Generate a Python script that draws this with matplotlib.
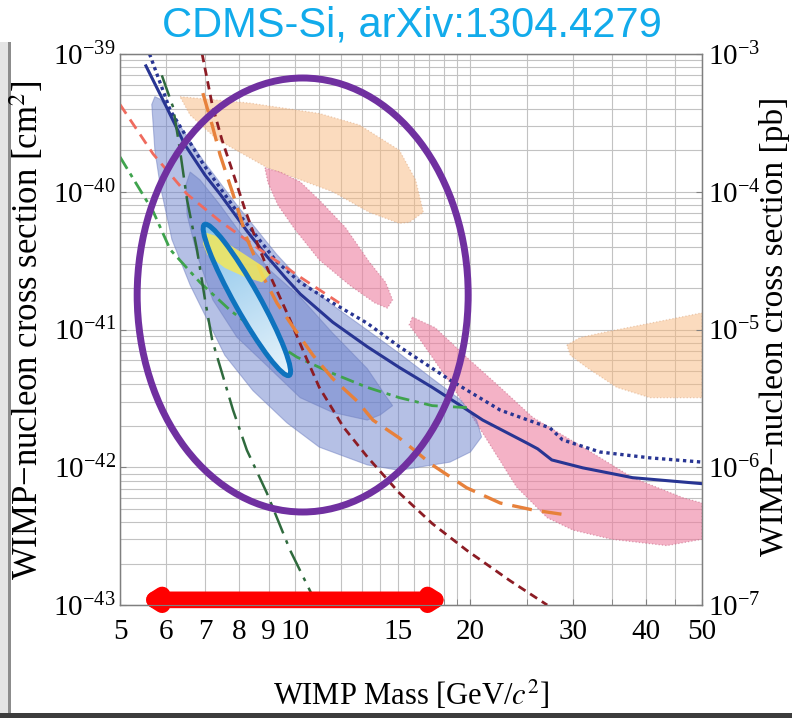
import numpy as np
import matplotlib
matplotlib.use('Agg')
import matplotlib.pyplot as plt
from matplotlib.patches import Ellipse, Rectangle
from matplotlib.transforms import Affine2D, ScaledTranslation
from matplotlib.colors import LinearSegmentedColormap
from matplotlib.image import AxesImage

plt.rcParams['font.family'] = 'Liberation Serif'
plt.rcParams['mathtext.fontset'] = 'stix'

# WIMP mass [GeV/c^2] and cross section [cm^2]
solid_m = [5.54, 5.98, 6.46, 7.00, 7.43, 8.26, 8.94, 9.60, 10.2, 11.6, 13.3, 15.1,
           17.2, 19.0, 21.0, 25.0, 26.1, 27.6, 31.2, 38.0, 50.0]
solid_s = [8.2e-40, 4.3e-40, 2.2e-40, 1.32e-40, 9.6e-41, 5.2e-41, 3.4e-41, 2.4e-41,
           1.81e-41, 1.13e-41, 7.5e-42, 5.3e-42, 3.8e-42, 2.9e-42, 2.2e-42, 1.5e-42,
           1.36e-42, 1.13e-42, 9.9e-43, 8.4e-43, 7.6e-43]

dotted_m = [5.62, 6.10, 6.94, 7.94, 9.30, 10.2, 11.6, 13.3, 15.1, 18.45, 22.5, 27.4,
            28.8, 33.4, 40.7, 50.0]
dotted_s = [1.0e-39, 3.9e-40, 1.6e-40, 7.2e-41, 3.1e-41, 2.2e-41, 1.56e-41, 1.11e-41,
            7.5e-42, 4.3e-42, 2.6e-42, 1.93e-42, 1.58e-42, 1.29e-42, 1.17e-42, 1.09e-42]

salmon_m = [5.0, 5.70, 6.52, 7.43, 8.70, 10.2, 11.9]
salmon_s = [4.3e-40, 1.88e-40, 9.6e-41, 6.1e-41, 3.8e-41, 2.4e-41, 1.56e-41]

green_m = [5.0, 5.70, 6.10, 6.86, 7.73, 8.70, 10.07, 11.6, 13.3, 15.1, 17.2, 20.0]
green_s = [1.79e-40, 7.2e-41, 3.8e-41, 2.2e-41, 1.38e-41, 9.4e-42, 6.3e-42, 4.8e-42,
           3.8e-42, 3.2e-42, 2.8e-42, 2.7e-42]

dkgreen_m = [5.90, 6.17, 6.34, 6.52, 6.78, 7.00, 7.20, 7.82, 8.26, 8.94, 9.80, 10.9]
dkgreen_s = [7.0e-40, 4.1e-40, 2.0e-40, 8.7e-41, 3.8e-41, 1.64e-41, 8.4e-42, 2.6e-42,
             1.33e-42, 6.5e-43, 2.5e-43, 1.0e-43]

dkred_m = [6.92, 7.20, 7.48, 7.79, 8.20, 8.63, 9.12, 9.72, 10.4, 11.0, 12.1, 13.3,
           15.1, 17.2, 19.7, 23.4, 27.1]
dkred_s = [1.0e-39, 4.3e-40, 2.4e-40, 1.44e-40, 7.4e-41, 4.1e-41, 2.3e-41, 1.27e-41,
           6.5e-42, 3.8e-42, 1.96e-42, 1.19e-42, 6.5e-43, 3.9e-43, 2.5e-43, 1.5e-43, 1.0e-43]

orange_m = [6.94, 7.20, 7.43, 7.82, 8.26, 8.77, 9.30, 9.92, 10.73, 11.6, 12.8, 13.6,
            15.1, 17.2, 19.7, 22.5, 25.6, 29.3]
orange_s = [5.2e-40, 3.05e-40, 1.85e-40, 9.6e-41, 4.6e-41, 2.5e-41, 1.56e-41, 1.04e-41,
            6.5e-42, 4.4e-42, 3.0e-42, 2.2e-42, 1.63e-42, 1.04e-42, 7.1e-43, 5.5e-43,
            4.9e-43, 4.5e-43]

# contour regions
outer_m = [5.67, 5.74, 5.86, 6.22, 6.94, 7.94, 9.30, 10.2, 11.6, 13.3, 15.1, 17.2, 19.2,
           20.5, 20.9, 20.0, 18.45, 15.1, 13.3, 11.0, 9.68, 8.46, 7.57, 7.00, 6.60, 6.14,
           5.86, 5.74]
outer_s = [4.3e-40, 4.9e-40, 4.7e-40, 3.4e-40, 1.7e-40, 8.0e-41, 3.5e-41, 2.3e-41, 1.5e-41,
           9.9e-42, 6.7e-42, 4.4e-42, 3.1e-42, 2.2e-42, 1.66e-42, 1.29e-42, 1.09e-42,
           9.5e-43, 1.04e-42, 1.4e-42, 2.1e-42, 3.6e-42, 6.5e-42, 1.27e-41, 2.1e-41,
           4.5e-41, 1.12e-40, 2.0e-40]

inner_m = [6.60, 6.86, 7.43, 8.20, 9.04, 10.2, 11.6, 13.3, 14.3, 14.7, 14.0, 13.3, 11.6,
           10.2, 8.81, 7.94, 7.22, 6.78, 6.52, 6.49]
inner_s = [1.39e-40, 1.22e-40, 8.0e-41, 4.5e-41, 2.7e-41, 1.72e-41, 9.4e-42, 5.2e-42,
           3.3e-42, 2.8e-42, 2.4e-42, 2.2e-42, 2.5e-42, 3.2e-42, 5.8e-42, 8.8e-42,
           1.64e-41, 3.5e-41, 6.8e-41, 1.12e-40]

yellow_m = [6.97, 7.28, 8.03, 8.77, 9.04, 8.77, 8.20, 7.57, 7.06, 6.94]
yellow_s = [5.1e-41, 4.8e-41, 3.7e-41, 2.9e-41, 2.5e-41, 2.2e-41, 2.4e-41, 2.8e-41,
            3.5e-41, 4.2e-41]

peach1_m = [6.34, 8.36, 11.0, 12.9, 15.1, 16.1, 16.6, 15.7, 15.1, 13.4, 11.6, 8.94, 7.34, 6.60]
peach1_s = [4.9e-40, 4.4e-40, 3.7e-40, 3.05e-40, 2.0e-40, 1.22e-40, 7.1e-41, 6.0e-41,
            5.9e-41, 7.1e-41, 1.0e-40, 1.5e-40, 2.4e-40, 3.6e-40]

peach2_m = [29.3, 30.8, 33.4, 40.7, 50.0, 50.0, 40.7, 35.7, 31.7, 29.7]
peach2_s = [7.7e-42, 8.7e-42, 9.4e-42, 1.11e-41, 1.32e-41, 3.2e-42, 3.2e-42, 3.8e-42,
            5.3e-42, 6.5e-42]

pink1_m = [8.87, 9.42, 10.2, 11.0, 12.2, 13.4, 14.3, 14.7, 14.4, 13.7, 12.4, 11.0, 10.0,
           9.34, 8.98]
pink1_s = [1.49e-40, 1.39e-40, 1.18e-40, 8.7e-41, 5.5e-41, 3.1e-41, 2.2e-41, 1.64e-41,
           1.43e-41, 1.56e-41, 2.1e-41, 3.2e-41, 5.3e-41, 8.0e-41, 1.16e-40]

pink2_m = [15.9, 17.4, 19.7, 22.5, 25.6, 31.2, 38.0, 46.4, 50.0, 50.0, 43.5, 35.0, 30.0,
           27.1, 24.0, 21.0, 18.45, 16.4, 15.7]
pink2_s = [1.23e-41, 1.03e-41, 6.3e-42, 3.8e-42, 2.3e-42, 1.4e-42, 8.4e-43, 6.0e-43,
           5.5e-43, 3.0e-43, 2.7e-43, 3.0e-43, 3.5e-43, 4.3e-43, 7.2e-43, 1.77e-42,
           4.1e-42, 8.4e-42, 1.08e-41]

xticks = [5, 6, 7, 8, 9, 10, 15, 20, 30, 40, 50]
xminor = [11, 12, 13, 14, 16, 17, 18, 19, 25, 35, 45]
yticks_cm2 = [1e-43, 1e-42, 1e-41, 1e-40, 1e-39]
yticks_pb = [1e-7, 1e-6, 1e-5, 1e-4, 1e-3]

# annotation marks (centres in data units)
purple_centre = (10.3, 1.78e-41)
cyan_centre = (8.26, 1.64e-41)
arrow_left, arrow_right, arrow_y = 5.39, 18.5, 1.09e-43

fig = plt.figure(figsize=(7.92, 7.18), dpi=100)
ax = fig.add_axes([120 / 792, 113 / 718, 582 / 792, 551 / 718])
ax.set_xscale('log')
ax.set_yscale('log')

# filled regions
ax.fill(peach1_m, peach1_s, facecolor='#F9B97E', alpha=0.5, edgecolor='#D9A27A',
        linestyle=':', lw=0.9, zorder=1)
ax.fill(peach2_m, peach2_s, facecolor='#F9B97E', alpha=0.5, edgecolor='#D9A27A',
        linestyle=':', lw=0.9, zorder=1)
ax.fill(pink1_m, pink1_s, facecolor='#EE7FA0', alpha=0.6, edgecolor='#C86A88',
        linestyle=':', lw=0.9, zorder=1)
ax.fill(pink2_m, pink2_s, facecolor='#EE7FA0', alpha=0.6, edgecolor='#C86A88',
        linestyle=':', lw=0.9, zorder=1)
ax.fill(outer_m, outer_s, facecolor='#6C82CC', alpha=0.5, edgecolor='#6F7FC0',
        lw=0.8, zorder=2)
ax.fill(inner_m, inner_s, facecolor='#6C82CC', alpha=0.5, edgecolor='#6F7FC0',
        lw=0.8, zorder=2)

# limit curves
ax.plot(solid_m, solid_s, color='#283593', lw=2.2, zorder=3)
ax.plot(dotted_m, dotted_s, color='#283593', lw=2.4, dashes=(1, 1.1), zorder=3)
ax.plot(salmon_m, salmon_s, color='#EF6B5E', lw=2, dashes=(4, 2.5), zorder=3)
ax.plot(green_m, green_s, color='#3FA34D', lw=2, dashes=(5, 2, 1.5, 2), zorder=3)
ax.plot(dkgreen_m, dkgreen_s, color='#2F6A3D', lw=1.8, dashes=(9, 3, 1.5, 3), zorder=3)
ax.plot(dkred_m, dkred_s, color='#8C1C24', lw=2, dashes=(3, 2), zorder=3)
ax.plot(orange_m, orange_s, color='#E7813B', lw=2.4, dashes=(6, 3), zorder=3)

ax.set_xlim(5, 50)
ax.set_ylim(1e-43, 1e-39)


def inch_trans(x, y):
    return fig.dpi_scale_trans + ScaledTranslation(x, y, ax.transData)


# cyan ellipse with gradient fill
cyan_len, cyan_wid, cyan_ang = 1.73, 0.25, -60.7
cyan_tr = Affine2D().rotate_deg(cyan_ang) + inch_trans(*cyan_centre)
clip_ell = Ellipse((0, 0), cyan_len, cyan_wid, angle=cyan_ang,
                   transform=inch_trans(*cyan_centre), facecolor='none',
                   edgecolor='none', zorder=4)
ax.add_patch(clip_ell)
cmap = LinearSegmentedColormap.from_list('cy', ['#86C2EA', '#E8F4FB'])
im = AxesImage(ax, cmap=cmap, extent=(-cyan_len / 2, cyan_len / 2, -cyan_wid / 2, cyan_wid / 2),
               transform=cyan_tr, zorder=4, interpolation='bilinear')
im.set_data(np.linspace(0, 1, 256)[None, :])
ax.add_image(im)
im.set_clip_path(clip_ell)

ax.fill(yellow_m, yellow_s, facecolor='#F3E85A', alpha=0.85, edgecolor='none', zorder=4.5)

ax.add_patch(Ellipse((0, 0), cyan_len, cyan_wid, angle=cyan_ang,
                     transform=inch_trans(*cyan_centre), facecolor='none',
                     edgecolor='#0E73BE', lw=3.6, zorder=5))

ax.add_patch(Ellipse((0, 0), 3.31, 4.34, transform=inch_trans(*purple_centre),
                     facecolor='none', edgecolor='#7030A0', lw=5, zorder=6, clip_on=False))

ax.annotate('', xy=(arrow_right, arrow_y), xytext=(arrow_left, arrow_y),
            arrowprops=dict(arrowstyle='<|-|>,head_length=0.55,head_width=0.35',
                            color='#FF0000', lw=12, shrinkA=0, shrinkB=0,
                            joinstyle='round', capstyle='round'),
            annotation_clip=False, zorder=7)

# axes cosmetics
ax.set_xticks(xticks)
ax.set_xticklabels([str(t) for t in xticks])
ax.set_xticks(xminor, minor=True)
ax.set_xticklabels([], minor=True)
ax.set_yticks(yticks_cm2)
ax.grid(True, which='both', color='#C2C2C2', lw=0.8)
ax.set_axisbelow(True)
ax.tick_params(which='both', direction='in', color='#808080', length=4)
ax.tick_params(axis='x', which='major', labelsize=21, pad=10)
ax.tick_params(axis='y', which='major', labelsize=21, pad=3)
ax.tick_params(axis='y', which='minor', length=0)
for sp in ax.spines.values():
    sp.set_color('#7F7F7F')
    sp.set_linewidth(1)

ax2 = ax.twinx()
ax2.set_yscale('log')
ax2.set_ylim(1e-7, 1e-3)
ax2.set_yticks(yticks_pb)
ax2.tick_params(which='both', direction='in', color='#808080', length=4)
ax2.tick_params(axis='y', which='major', labelsize=21, pad=4)
ax2.tick_params(axis='y', which='minor', length=0)
for sp in ax2.spines.values():
    sp.set_color('#7F7F7F')

fig.text(0.034, 0.54, 'WIMP\u2212nucleon cross section [cm$^2$]', rotation=90,
         ha='center', va='center', fontsize=25)
fig.text(0.978, 0.545, 'WIMP\u2212nucleon cross section [pb]', rotation=90,
         ha='center', va='center', fontsize=24)
fig.text(0.519, 0.032, 'WIMP Mass [GeV/$c^2$]', ha='center', va='center', fontsize=22)
fig.text(0.52, 0.964, 'CDMS-Si, arXiv:1304.4279', ha='center', va='center',
         fontsize=30, color='#12ABEB', family='Liberation Sans')

# picture frame shadow
fig.patches.append(Rectangle((0, 0), 8 / 792, 676 / 718, transform=fig.transFigure,
                             facecolor='#E4E4E4', edgecolor='none'))
fig.patches.append(Rectangle((8 / 792, 0), 3 / 792, 676 / 718, transform=fig.transFigure,
                             facecolor='#8C8C8C', edgecolor='none'))
fig.patches.append(Rectangle((0, 0), 1, 5 / 718, transform=fig.transFigure,
                             facecolor='#3C3C3C', edgecolor='none'))

fig.savefig('out.png', dpi=100)
